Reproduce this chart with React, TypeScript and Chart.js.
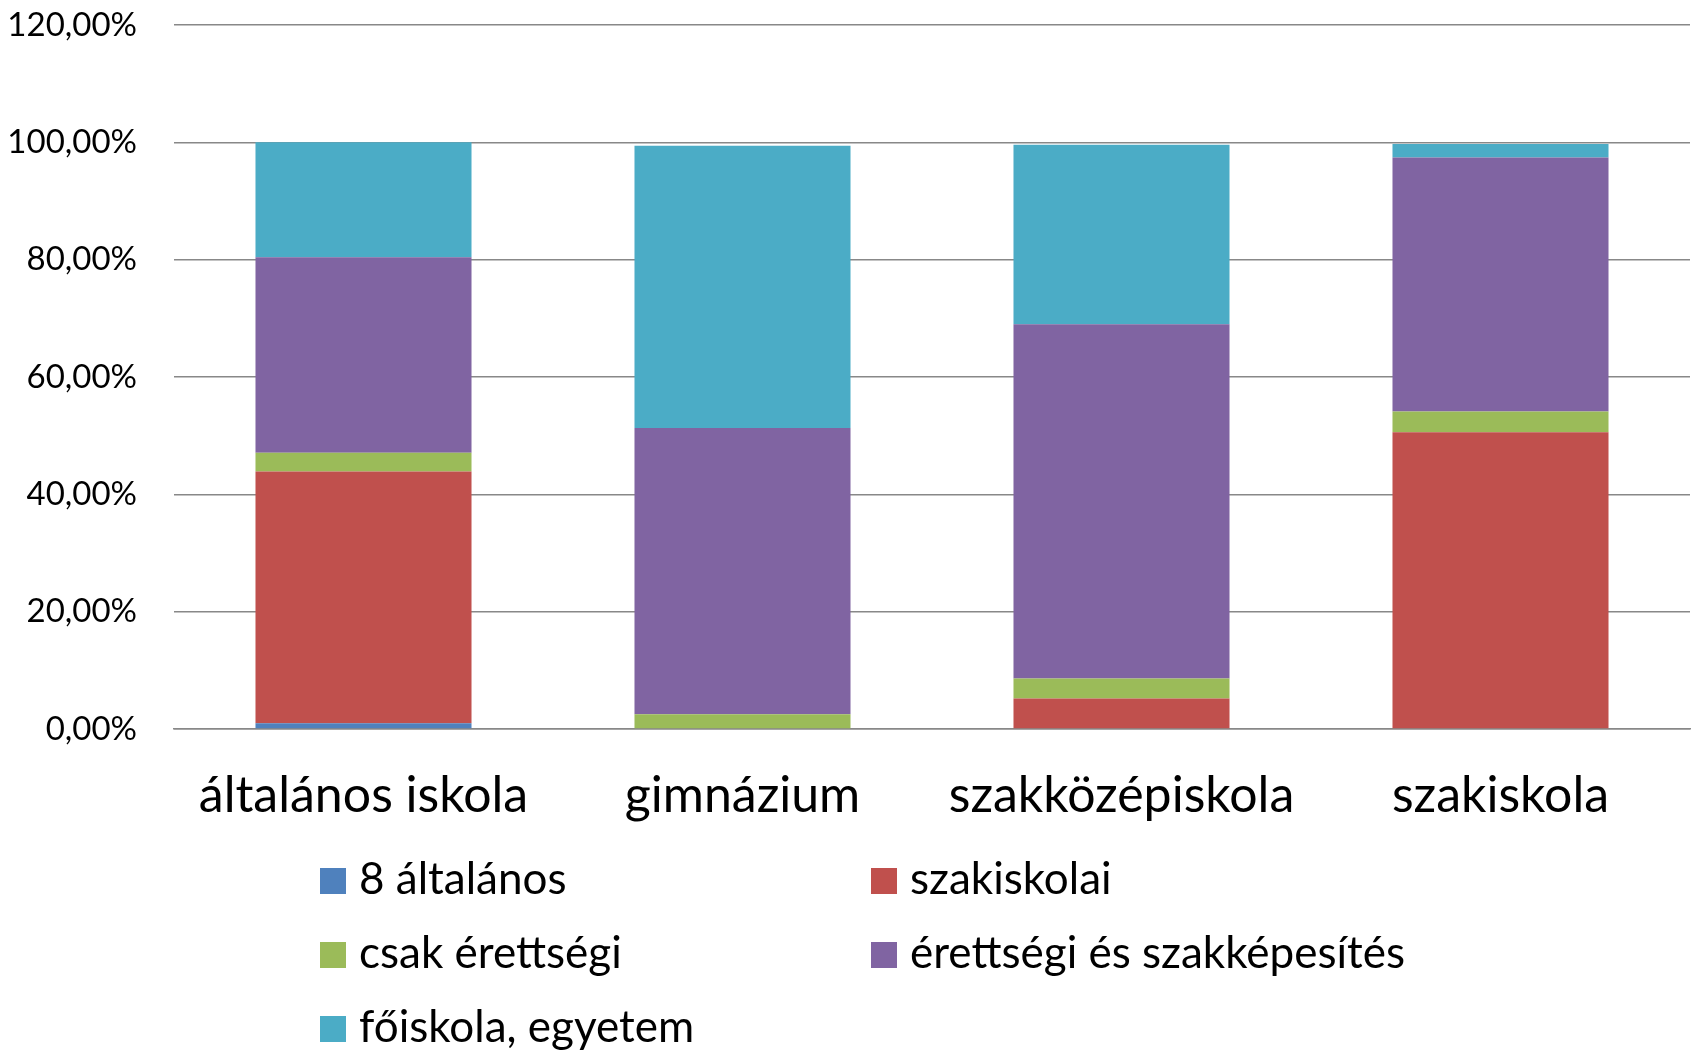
import React, { useEffect, useRef } from "react";
import { Chart, registerables } from "chart.js";

Chart.register(...registerables);

const categories = ["általános iskola", "gimnázium", "szakközépiskola", "szakiskola"];
const seriesNames = [
  "8 általános",
  "szakiskolai",
  "csak érettségi",
  "érettségi és szakképesítés",
  "főiskola, egyetem",
];
const nyolcAltalanos = [1.0, 0, 0, 0];
const szakiskolai = [42.9, 0, 5.2, 50.6];
const csakErettsegi = [3.2, 2.5, 3.4, 3.5];
const erettsegiSzak = [33.3, 48.8, 60.4, 43.3];
const foiskola = [19.6, 48.1, 30.6, 2.3];
const yTicks = [0, 20, 40, 60, 80, 100, 120];

const colors = ["#4F81BD", "#C0504D", "#9BBB59", "#8064A2", "#4BACC6"];

const legendPlugin = {
  id: "gridLegend",
  afterDraw(chart: any) {
    const ctx = chart.ctx;
    const colX = [320, 871];
    const rowTop = [868, 942, 1016];
    const box = 26;
    ctx.save();
    ctx.font = "44px Lato";
    ctx.textBaseline = "alphabetic";
    ctx.textAlign = "left";
    chart.data.datasets.forEach((ds: any, i: number) => {
      const x = colX[i % 2];
      const y = rowTop[Math.floor(i / 2)];
      ctx.fillStyle = ds.backgroundColor;
      ctx.fillRect(x, y, box, box);
      ctx.fillStyle = "#000";
      ctx.fillText(ds.label, x + 39, y + box);
    });
    ctx.restore();
  },
};

export default function App() {
  const ref = useRef<HTMLCanvasElement>(null);
  useEffect(() => {
    if (!ref.current) return;
    const values = [nyolcAltalanos, szakiskolai, csakErettsegi, erettsegiSzak, foiskola];
    const chart = new Chart(ref.current, {
      type: "bar",
      data: {
        labels: categories,
        datasets: values.map((v, i) => ({
          label: seriesNames[i],
          data: v,
          backgroundColor: colors[i],
          borderWidth: 0,
          categoryPercentage: 1,
          barPercentage: 0.57,
        })),
      },
      options: {
        animation: false,
        responsive: false,
        maintainAspectRatio: false,
        layout: { padding: { left: 0, right: 4, top: 25, bottom: 0 } },
        plugins: {
          legend: { display: false },
          tooltip: { enabled: false },
        },
        scales: {
          x: {
            stacked: true,
            grid: { display: false, drawTicks: false },
            border: { display: true, color: "#888888", width: 1.5 },
            ticks: {
              color: "#000",
              font: { family: "Lato", size: 50 },
              padding: 37,
              maxRotation: 0,
              autoSkip: false,
            },
            afterFit: (s: any) => {
              s.height = 322;
              s.paddingTop = 0;
              s.paddingBottom = 0;
            },
          },
          y: {
            stacked: true,
            min: 0,
            max: 120,
            afterBuildTicks: (s: any) => {
              s.ticks = yTicks.map((v) => ({ value: v }));
            },
            grid: { color: "#888888", lineWidth: 1.5, drawTicks: false },
            border: { display: false },
            ticks: {
              color: "#000",
              font: { family: "Lato", size: 33 },
              padding: 37,
              callback: (v: any) => Number(v).toFixed(2).replace(".", ",") + "%",
            },
            afterFit: (s: any) => {
              s.width = 174;
              s.paddingTop = 0;
              s.paddingBottom = 0;
            },
          },
        },
      },
      plugins: [legendPlugin],
    });
    return () => chart.destroy();
  }, []);
  return (
    <div style={{ position: "fixed", left: 0, top: 0, width: 1694, height: 1051, background: "#fff" }}>
      <canvas ref={ref} width={1694} height={1051} style={{ width: 1694, height: 1051 }} />
    </div>
  );
}
